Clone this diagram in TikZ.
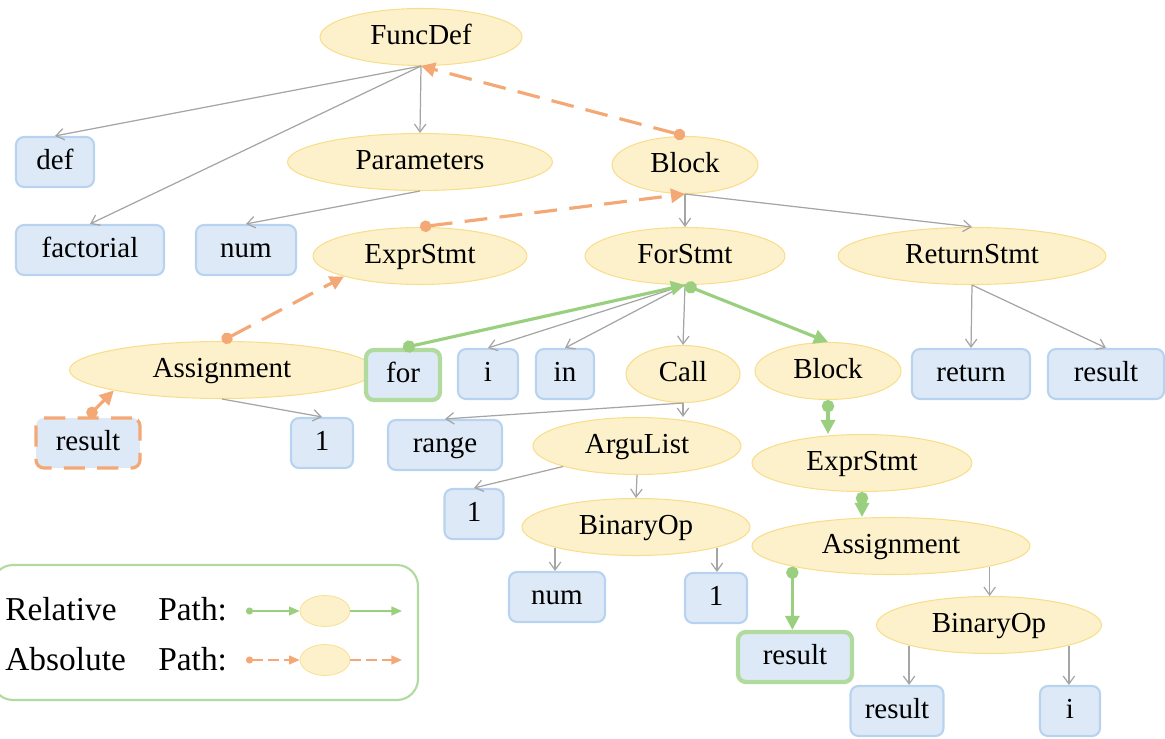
\documentclass[tikz,border=0pt]{standalone}
\usepackage{fontspec}
\setmainfont{Liberation Serif}
\usetikzlibrary{arrows.meta,shapes.geometric}
\definecolor{nodefill}{RGB}{253,241,204}
\definecolor{nodeline}{RGB}{248,222,140}
\definecolor{boxfill}{RGB}{221,233,246}
\definecolor{boxline}{RGB}{184,211,240}
\definecolor{edgegray}{RGB}{165,165,165}
\definecolor{relgreen}{RGB}{155,207,128}
\definecolor{relframe}{RGB}{176,218,158}
\definecolor{absorange}{RGB}{243,168,118}

\tikzset{
  astnode/.style={ellipse, draw=nodeline, fill=nodefill, line width=0.6pt,
    inner sep=0pt, minimum height=1.14cm, text height=12pt, text depth=3pt,
    font=\fontsize{16.5}{18}\selectfont},
  tokbox/.style={rectangle, rounded corners=4.5pt, draw=boxline, fill=boxfill,
    line width=1.2pt, inner sep=0pt, minimum height=1cm,
    text height=12pt, text depth=3pt, font=\fontsize{16.5}{18}\selectfont},
  treeedge/.style={draw=edgegray, line width=0.7pt,
    -{Straight Barb[length=4.5pt,width=6.5pt]}},
  relpath/.style={draw=relgreen, line width=1.8pt,
    {Circle[length=7pt]}-{Triangle[length=8pt,width=8pt]}},
  abspath/.style={draw=absorange, line width=1.8pt, dash pattern=on 13pt off 7pt,
    {Circle[length=6.5pt]}-{Triangle[length=8pt,width=8pt]}},
  onrel/.style={draw=relframe, line width=2.4pt},
  onabs/.style={draw=absorange, line width=1.8pt, dash pattern=on 12pt off 7pt},
  legtext/.style={anchor=west, inner sep=0pt, font=\fontsize{19}{22}\selectfont},
}

\begin{document}
\begin{tikzpicture}[x=0.02cm,y=-0.02cm]
  \useasboundingbox (0,0) rectangle (1165,739);

  % --- inner nodes ---
  \node[astnode, minimum width=4.04cm] (funcdef) at (421,37) {FuncDef};
  \node[astnode, minimum width=5.3cm]  (params)  at (420,162) {Parameters};
  \node[astnode, minimum width=2.92cm] (blockA)  at (685,165) {Block};
  \node[astnode, minimum width=4.28cm] (exprA)   at (420,256) {ExprStmt};
  \node[astnode, minimum width=4.0cm]  (forstmt) at (685,256) {ForStmt};
  \node[astnode, minimum width=5.36cm] (retstmt) at (972,256) {ReturnStmt};
  \node[astnode, minimum width=6.1cm]  (assignA) at (222,370) {Assignment};
  \node[astnode, minimum width=2.28cm] (call)    at (683,374) {Call};
  \node[astnode, minimum width=2.92cm] (blockB)  at (828,371) {Block};
  \node[astnode, minimum width=4.16cm] (argus)   at (637,446) {ArguList};
  \node[astnode, minimum width=4.4cm]  (exprB)   at (862,463) {ExprStmt};
  \node[astnode, minimum width=4.56cm] (binopA)  at (636,527) {BinaryOp};
  \node[astnode, minimum width=5.56cm] (assignB) at (891,546) {Assignment};
  \node[astnode, minimum width=4.5cm]  (binopB)  at (989,625) {BinaryOp};

  % --- leaf tokens ---
  \node[tokbox, minimum width=1.56cm] (kwdef)  at (55,162)  {def};
  \node[tokbox, minimum width=2.96cm] (fname)  at (90,250)  {factorial};
  \node[tokbox, minimum width=2.0cm]  (numA)   at (246,250) {num};
  \node[tokbox, onrel, minimum width=1.48cm] (kwfor) at (403,375) {for};
  \node[tokbox, minimum width=1.2cm]  (varI)   at (488,374) {i};
  \node[tokbox, minimum width=1.16cm] (kwin)   at (565,374) {in};
  \node[tokbox, minimum width=2.36cm] (kwret)  at (971,374) {return};
  \node[tokbox, minimum width=2.32cm] (resA)   at (1106,374) {result};
  \node[tokbox, onabs, minimum width=2.08cm] (resB) at (88,443) {result};
  \node[tokbox, minimum width=1.24cm] (oneA)   at (322,443) {1};
  \node[tokbox, minimum width=2.28cm] (range)  at (445,445) {range};
  \node[tokbox, minimum width=1.18cm] (oneB)   at (474,514) {1};
  \node[tokbox, minimum width=1.92cm] (numB)   at (557,597) {num};
  \node[tokbox, minimum width=1.24cm] (oneC)   at (716,598) {1};
  \node[tokbox, onrel, minimum width=2.28cm] (resC) at (795,657) {result};
  \node[tokbox, minimum width=1.86cm] (resD)   at (897,711) {result};
  \node[tokbox, minimum width=1.2cm]  (varJ)   at (1070,711) {i};

  % --- tree edges ---
  \draw[treeedge] (funcdef.south) -- (kwdef.north);
  \draw[treeedge] (funcdef.south) -- (fname.north);
  \draw[treeedge] (funcdef.south) -- (params.north);
  \draw[treeedge] (params.south) -- (numA.north);
  \draw[treeedge] (blockA.south) -- (forstmt.north);
  \draw[treeedge] (blockA.south) -- (retstmt.north);
  \draw[treeedge] (forstmt.south) -- (varI.north);
  \draw[treeedge] (forstmt.south) -- (kwin.north);
  \draw[treeedge] (forstmt.south) -- (call.north);
  \draw[treeedge] (retstmt.south) -- (kwret.north);
  \draw[treeedge] (retstmt.south) -- (resA.north);
  \draw[treeedge] (assignA.south) -- (oneA.north);
  \draw[treeedge] (call.south) -- (range.north);
  \draw[treeedge] (call.south) -- (call.south |- argus.north);
  \draw[treeedge] (argus.south west) -- (oneB.north);
  \draw[treeedge] (argus.south) -- (binopA.north);
  \draw[treeedge] (binopA.south west) -- (binopA.south west |- numB.north);
  \draw[treeedge] (binopA.south east) -- (binopA.south east |- oneC.north);
  \draw[treeedge] (assignB.south east) -- (assignB.south east |- binopB.north);
  \draw[treeedge] (binopB.south west) -- (binopB.south west |- resD.north);
  \draw[treeedge] (binopB.south east) -- (binopB.south east |- varJ.north);

  % --- relative path (green) ---
  \draw[relpath] (kwfor.north) -- (forstmt.south);
  \draw[relpath] (forstmt.south) -- (blockB.north);
  \draw[relpath] (blockB.south) -- (blockB.south |- exprB.north);
  \draw[relpath] (exprB.south) -- (exprB.south |- assignB.north);
  \draw[relpath] (assignB.south west) -- (assignB.south west |- resC.north);

  % --- absolute path (orange, dashed) ---
  \draw[abspath] (resB.north) -- (assignA.south west);
  \draw[abspath] (assignA.north) -- (exprA.south west);
  \draw[abspath] (exprA.north) -- (blockA.south);
  \draw[abspath] (blockA.north) -- (funcdef.south);

  % --- legend ---
  \draw[relframe, line width=1.2pt, rounded corners=12pt] (-8,565) rectangle (418,700);
  \node[legtext] (relword) at (5,609) {Relative};
  \node[legtext] (relpathw) at (158,609) {Path:};
  \node[legtext] (absword) at (5,659) {Absolute};
  \node[legtext] (abspathw) at (158,659) {Path:};

  \coordinate (relS) at (246,611);
  \node[ellipse, fill=nodefill, draw=nodeline, line width=0.4pt, inner sep=0pt,
    minimum width=1.0cm, minimum height=0.62cm] (relE) at (325,611) {};
  \coordinate (relT) at (402,611);
  \draw[relgreen, line width=1pt, {Circle[length=4pt]}-{Triangle[length=6pt,width=5pt]}]
    (relS) -- (relE);
  \draw[relgreen, line width=1pt, -{Triangle[length=6pt,width=5pt]}] (relE) -- (relT);

  \coordinate (absS) at (246,660);
  \node[ellipse, fill=nodefill, draw=nodeline, line width=0.4pt, inner sep=0pt,
    minimum width=1.0cm, minimum height=0.62cm] (absE) at (325,660) {};
  \coordinate (absT) at (402,660);
  \draw[absorange, line width=1pt, dash pattern=on 6pt off 3pt,
    {Circle[length=4pt]}-{Triangle[length=6pt,width=5pt]}] (absS) -- (absE);
  \draw[absorange, line width=1pt, dash pattern=on 6pt off 3pt,
    -{Triangle[length=6pt,width=5pt]}] (absE) -- (absT);
\end{tikzpicture}
\end{document}
